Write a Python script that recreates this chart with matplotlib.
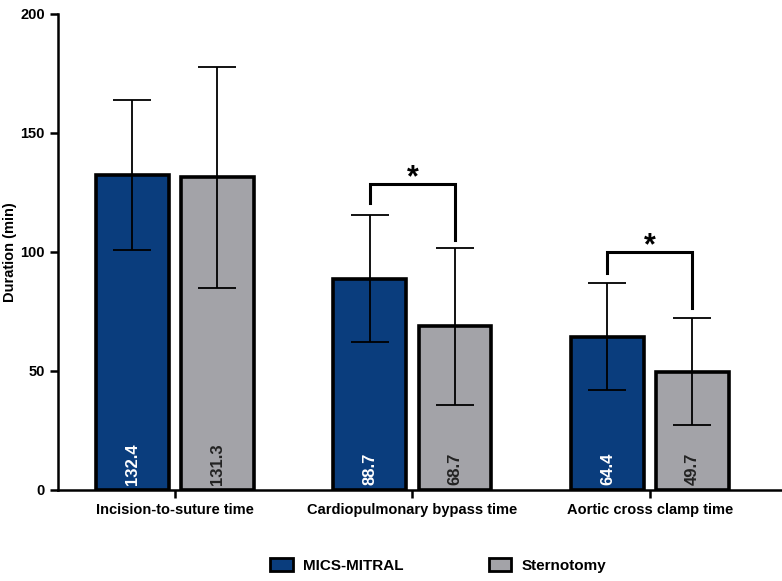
import numpy as np
import matplotlib.pyplot as plt
from matplotlib.patches import Patch

plt.rcParams['font.family'] = ['Liberation Sans', 'DejaVu Sans']

# data
categories = ['Incision-to-suture time', 'Cardiopulmonary bypass time', 'Aortic cross clamp time']
groups = ['MICS-MITRAL', 'Sternotomy']
mics_mean = [132.4, 88.7, 64.4]
mics_sd = [31.5, 26.7, 22.5]
stern_mean = [131.3, 68.7, 49.7]
stern_sd = [46.5, 33.0, 22.5]
colors = ['#0a3d7d', '#a3a3a8']
label_colors = ['white', '#222222']

# significance brackets: (category index, bar height, left leg end, right leg end)
sig = [(1, 128.6, 120.6, 105.0), (2, 100.0, 91.2, 76.5)]

x = np.arange(len(categories))
w = 0.307
off = 0.179

fig = plt.figure(figsize=(7.82, 5.81), dpi=100)
ax = fig.add_axes([0.074, 0.157, 0.926, 0.819])

for i, (means, sds) in enumerate([(mics_mean, mics_sd), (stern_mean, stern_sd)]):
    xs = x + (2*i - 1)*off
    ax.bar(xs, means, width=w, color=colors[i], edgecolor='black', linewidth=2.6, zorder=2)
    ax.errorbar(xs, means, yerr=sds, fmt='none', ecolor='black', elinewidth=1.3,
                capsize=13.5, capthick=1.3, zorder=3)
    for xi, m in zip(xs, means):
        ax.text(xi, 2, f'{m:.1f}', rotation=90, ha='center', va='bottom',
                color=label_colors[i], fontsize=12, fontweight='bold', zorder=4)

for ci, top, l_end, r_end in sig:
    xl = x[ci] - off
    xr = x[ci] + off
    ax.plot([xl, xl, xr, xr], [l_end, top, top, r_end], color='black', lw=2.2,
            solid_joinstyle='miter', zorder=3)
    ax.text(x[ci], top + 2.5, '*', ha='center', va='center', fontsize=22, fontweight='bold')

ax.set_ylim(0, 200)
ax.set_xlim(-0.493, 2.556)
ax.set_yticks([0, 50, 100, 150, 200])
ax.set_xticks(x)
ax.set_xticklabels(categories, fontweight='bold', fontsize=10.5)
for t in ax.get_yticklabels():
    t.set_fontweight('bold')
    t.set_fontsize(10.5)
ax.set_ylabel('Duration (min)', fontweight='bold', fontsize=10.5)
ax.yaxis.set_label_coords(-0.057, 0.5)

for s in ['top', 'right']:
    ax.spines[s].set_visible(False)
for s in ['left', 'bottom']:
    ax.spines[s].set_linewidth(1.8)
ax.tick_params(axis='both', width=1.8, length=6, direction='out')

handles = [Patch(facecolor=colors[i], edgecolor='black', linewidth=2, label=groups[i]) for i in range(2)]
fig.legend(handles=handles, loc='center', bbox_to_anchor=(0.56, 0.027), ncol=2, frameon=False,
           prop={'weight': 'bold', 'size': 11}, columnspacing=5.6, handlelength=1.5,
           handleheight=0.9, handletextpad=0.65)

fig.savefig('out.png', dpi=100)
